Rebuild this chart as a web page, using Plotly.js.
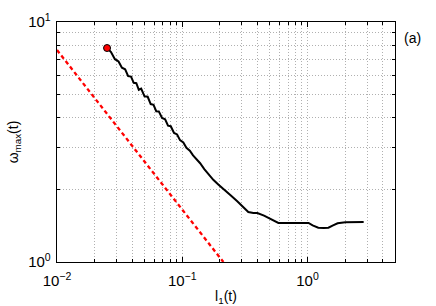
<!DOCTYPE html>
<html><head><meta charset="utf-8">
<script src="https://cdn.plot.ly/plotly-3.0.1.min.js"></script>
<style>html,body{margin:0;padding:0;background:#fff}#c{width:436px;height:306px}</style>
</head><body><div id="c"></div>
<script>
// black measured curve
const lX = [0.0251, 0.027, 0.029, 0.031, 0.033, 0.035, 0.037, 0.039, 0.041, 0.043, 0.045, 0.047, 0.050, 0.053, 0.056, 0.059, 0.062, 0.065, 0.069, 0.073, 0.077, 0.081, 0.086, 0.091, 0.096, 0.102, 0.108, 0.115, 0.122, 0.13, 0.139, 0.15, 0.163, 0.177, 0.195, 0.215, 0.242, 0.275, 0.308, 0.337, 0.37, 0.398, 0.45, 0.52, 0.586, 0.7, 0.85, 1.02, 1.1, 1.22, 1.35, 1.47, 1.6, 1.74, 2.01, 2.4, 2.81];
const wY = [7.79, 7.5, 7.0, 6.85, 6.45, 6.35, 5.95, 5.92, 5.58, 5.56, 5.22, 5.28, 4.90, 4.88, 4.55, 4.52, 4.25, 4.24, 3.98, 3.93, 3.70, 3.68, 3.45, 3.40, 3.22, 3.15, 2.99, 2.91, 2.78, 2.68, 2.58, 2.44, 2.31, 2.20, 2.10, 2.00, 1.90, 1.79, 1.69, 1.615, 1.60, 1.60, 1.56, 1.50, 1.455, 1.455, 1.455, 1.455, 1.42, 1.39, 1.385, 1.39, 1.42, 1.45, 1.465, 1.47, 1.468];
// red dashed reference line
const refX = [0.01, 0.213];
const refY = [7.64, 1.0];
// start marker
const startX = [0.0251];
const startY = [7.79];
// ticks
const xTickVals = [0.01, 0.1, 1];
const xTickText = ['10<sup>−2</sup>', '10<sup>−1</sup>', '10<sup>0</sup>'];
const xMinorVals = [0.02,0.03,0.04,0.05,0.06,0.07,0.08,0.09,0.2,0.3,0.4,0.5,0.6,0.7,0.8,0.9,2,3,4,5];
const yTickVals = [1, 10];
const yTickText = ['10<sup>0</sup>', '10<sup>1</sup>'];
const yMinorVals = [2,3,4,5,6,7,8,9];

const font = {family: 'Liberation Sans, Arial, sans-serif', size: 15, color: '#000'};
const titleFont = {family: 'Liberation Sans, Arial, sans-serif', size: 14, color: '#000'};
function axisCommon(minorVals) {
  return {
    type: 'log', showline: true, linecolor: '#000', linewidth: 1.3, mirror: 'ticks',
    ticks: 'inside', ticklen: 5, tickcolor: '#000', tickmode: 'array',
    showgrid: true, gridcolor: '#b0b0b0', griddash: '1px,2px', gridwidth: 1, zeroline: false,
    tickfont: font,
    minor: {tickmode: 'array', tickvals: minorVals, ticks: 'inside', ticklen: 3, tickcolor: '#000',
      showgrid: true, gridcolor: '#b0b0b0', griddash: '1px,2px', gridwidth: 1}
  };
}
const data = [
  {x: refX, y: refY, mode: 'lines', line: {color: '#ff0000', width: 2.3, dash: '4px,3px'}, hoverinfo: 'skip'},
  {x: lX, y: wY, mode: 'lines', line: {color: '#000', width: 2}},
  {x: startX, y: startY, mode: 'markers', marker: {color: '#ff0000', size: 7, line: {color: '#000', width: 1}}}
];
const layout = {
  width: 436, height: 306, showlegend: false,
  paper_bgcolor: '#fff', plot_bgcolor: '#fff',
  margin: {l: 57, r: 41, t: 22, b: 44},
  font: font,
  xaxis: Object.assign(axisCommon(xMinorVals), {range: [-2, Math.log10(5)], tickvals: xTickVals, ticktext: xTickText,
    ticklabelstandoff: 5,
    title: {text: 'l<sub>1</sub>(t)', font: titleFont, standoff: 6}}),
  yaxis: Object.assign(axisCommon(yMinorVals), {range: [0, 1], tickvals: yTickVals, ticktext: yTickText,
    ticklabelstandoff: 2,
    title: {text: 'ω<sub>max</sub>(t)', font: titleFont, standoff: 6}}),
  annotations: [{xref: 'paper', yref: 'paper', x: 1.02, y: 0.935, xanchor: 'left', yanchor: 'middle',
    text: '(a)', showarrow: false, font: titleFont}]
};
Plotly.newPlot('c', data, layout, {displayModeBar: false, staticPlot: true});
</script></body></html>
